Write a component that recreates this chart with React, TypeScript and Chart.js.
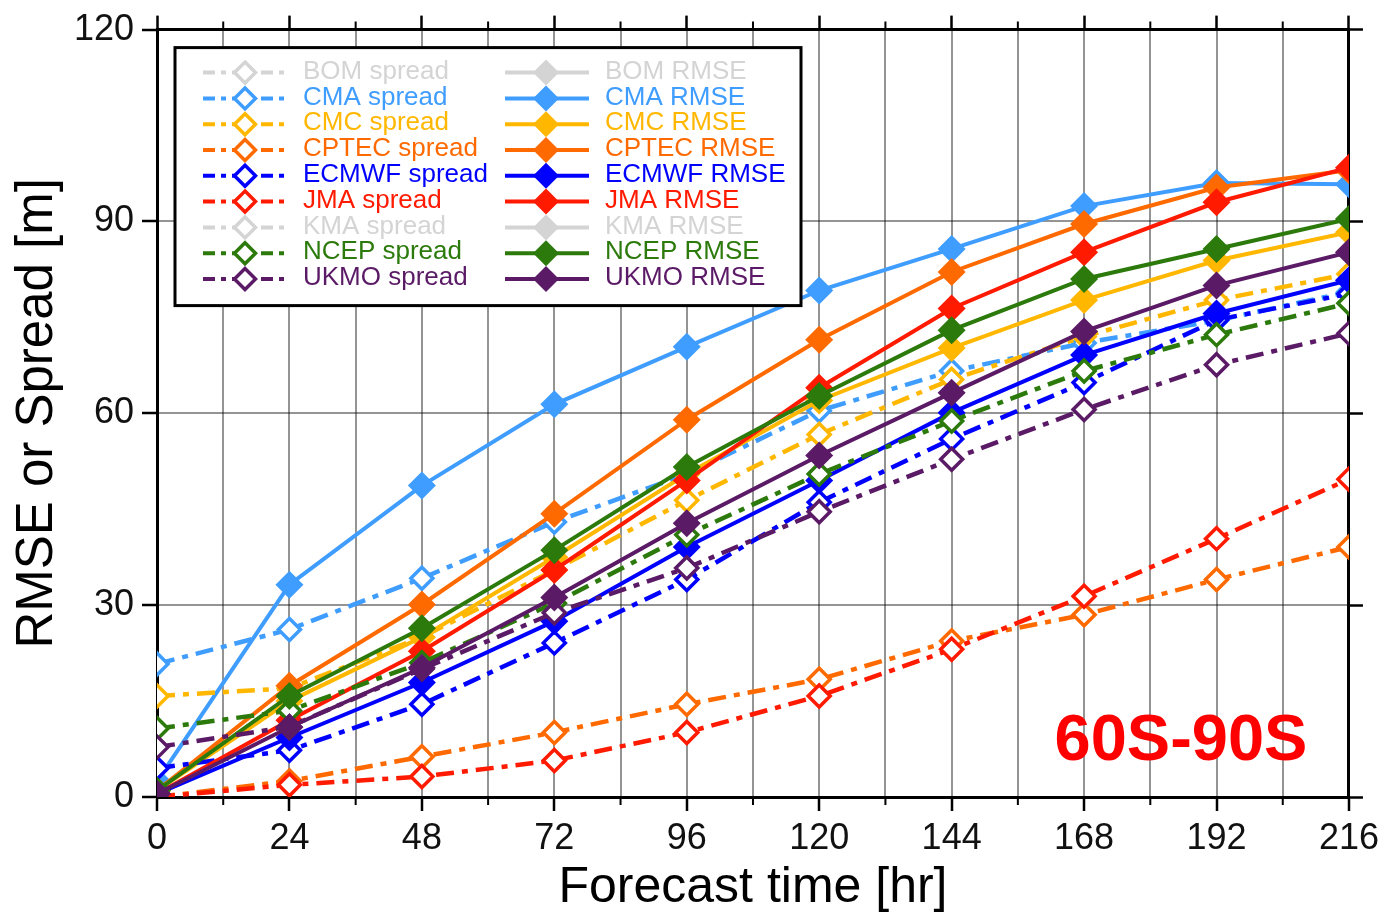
import React, { useEffect, useRef } from 'react';
import { Chart, registerables } from 'chart.js';

Chart.register(...registerables);

// ---------- data ----------
const hours = [0, 24, 48, 72, 96, 120, 144, 168, 192, 216];
const xLabelHours = [0, 24, 48, 72, 96, 120, 144, 168, 192, 216];
const minorHours = [12, 36, 60, 84, 108, 132, 156, 180, 204];
const yTicks = [0, 30, 60, 90, 120];

const models = ['BOM', 'CMA', 'CMC', 'CPTEC', 'ECMWF', 'JMA', 'KMA', 'NCEP', 'UKMO'];
const modelColors = ['#d4d4d4', '#3f9dff', '#ffb700', '#ff6a00', '#0000ff', '#ff1a00', '#d4d4d4', '#2b7a0b', '#5b1a66'];

const bomSpread: number[] = [];
const bomRmse: number[] = [];
const cmaSpread = [20.8, 26.2, 34.2, 43.0, 50.5, 60.4, 66.6, 71.0, 74.5, 79.0];
const cmaRmse = [2.5, 33.2, 48.7, 61.4, 70.4, 79.2, 85.7, 92.4, 96.0, 95.8];
const cmcSpread = [15.8, 17.0, 25.0, 35.5, 46.4, 56.7, 65.3, 72.0, 77.7, 81.8];
const cmcRmse = [1.0, 15.0, 25.0, 37.5, 50.5, 62.0, 70.2, 77.7, 83.9, 88.3];
const cptecSpread = [0.0, 2.5, 6.3, 10.1, 14.5, 18.4, 24.4, 28.5, 34.0, 39.1];
const cptecRmse = [1.0, 17.4, 30.1, 44.3, 59.0, 71.5, 82.1, 89.6, 95.3, 98.0];
const ecmwfSpread = [4.5, 7.3, 14.5, 24.1, 34.0, 46.1, 56.0, 64.8, 74.6, 78.7];
const ecmwfRmse = [0.5, 9.3, 17.9, 27.5, 39.1, 49.5, 60.1, 69.1, 75.6, 80.8];
const jmaSpread = [0.0, 1.9, 3.2, 5.7, 10.1, 15.8, 23.1, 31.4, 40.4, 49.7];
const jmaRmse = [0.5, 12.0, 22.8, 35.5, 49.5, 64.0, 76.4, 85.2, 93.0, 98.4];
const kmaSpread: number[] = [];
const kmaRmse: number[] = [];
const ncepSpread = [10.7, 13.5, 21.0, 30.3, 41.0, 50.5, 58.8, 66.6, 72.3, 77.2];
const ncepRmse = [1.0, 15.8, 26.4, 38.6, 51.6, 62.7, 73.0, 81.0, 85.7, 90.4];
const ukmoSpread = [7.8, 11.0, 20.0, 28.8, 35.8, 44.6, 52.8, 60.6, 67.6, 72.5];
const ukmoRmse = [0.5, 10.9, 20.2, 31.2, 42.8, 53.4, 63.2, 72.8, 80.0, 85.2];

const spreads = [bomSpread, cmaSpread, cmcSpread, cptecSpread, ecmwfSpread, jmaSpread, kmaSpread, ncepSpread, ukmoSpread];
const rmses = [bomRmse, cmaRmse, cmcRmse, cptecRmse, ecmwfRmse, jmaRmse, kmaRmse, ncepRmse, ukmoRmse];

const regionLabel = '60S-90S';
const yTitle = 'RMSE or Spread [m]';
const xTitle = 'Forecast time [hr]';

// ---------- styles ----------
const FONT = "'Liberation Sans', Arial, Helvetica, sans-serif";
const SPREAD_DASH = [18, 8, 6, 8];

function toPoints(vals: number[]) {
  return vals.map((v, i) => ({ x: hours[i], y: v }));
}

function drawDiamond(ctx: CanvasRenderingContext2D, x: number, y: number, r: number) {
  ctx.beginPath();
  ctx.moveTo(x, y - r);
  ctx.lineTo(x + r, y);
  ctx.lineTo(x, y + r);
  ctx.lineTo(x - r, y);
  ctx.closePath();
}

const legendPlugin = {
  id: 'customLegend',
  afterDatasetsDraw(chart: any) {
    const ctx: CanvasRenderingContext2D = chart.ctx;
    const ca = chart.chartArea;
    const bx = ca.left + 18;
    const by = ca.top + 18;
    const bw = 626;
    const bh = 258;
    ctx.save();
    ctx.fillStyle = '#ffffff';
    ctx.fillRect(bx, by, bw, bh);
    ctx.lineWidth = 3;
    ctx.strokeStyle = '#000000';
    ctx.setLineDash([]);
    ctx.strokeRect(bx, by, bw, bh);
    ctx.font = `26px ${FONT}`;
    ctx.textBaseline = 'middle';
    ctx.textAlign = 'left';
    const rowH = 25.8;
    models.forEach((m, i) => {
      const y = by + 25 + i * rowH;
      const c = modelColors[i];
      // spread column
      const x0 = bx + 28;
      ctx.strokeStyle = c;
      ctx.lineWidth = 4;
      ctx.setLineDash([12, 6, 5, 6]);
      ctx.beginPath();
      ctx.moveTo(x0, y);
      ctx.lineTo(x0 + 84, y);
      ctx.stroke();
      ctx.setLineDash([]);
      drawDiamond(ctx, x0 + 42, y, 10.5);
      ctx.fillStyle = '#ffffff';
      ctx.fill();
      ctx.lineWidth = 3.5;
      ctx.stroke();
      ctx.fillStyle = c;
      ctx.fillText(`${m} spread`, bx + 128, y - 1);
      // rmse column
      const x1 = bx + 330;
      ctx.strokeStyle = c;
      ctx.lineWidth = 4;
      ctx.beginPath();
      ctx.moveTo(x1, y);
      ctx.lineTo(x1 + 84, y);
      ctx.stroke();
      drawDiamond(ctx, x1 + 41, y, 13);
      ctx.fillStyle = c;
      ctx.fill();
      ctx.fillText(`${m} RMSE`, bx + 430, y - 1);
    });
    ctx.restore();
  },
  afterDraw(chart: any) {
    const ctx: CanvasRenderingContext2D = chart.ctx;
    const ca = chart.chartArea;
    const xs = chart.scales.x;
    ctx.save();
    // minor ticks
    ctx.strokeStyle = '#000';
    ctx.lineWidth = 2;
    minorHours.forEach((h) => {
      const px = xs.getPixelForValue(h);
      ctx.beginPath();
      ctx.moveTo(px, ca.bottom);
      ctx.lineTo(px, ca.bottom + 8);
      ctx.moveTo(px, ca.top);
      ctx.lineTo(px, ca.top - 8);
      ctx.stroke();
    });
    // region label
    ctx.fillStyle = '#ff0000';
    ctx.font = `bold 65px ${FONT}`;
    ctx.textAlign = 'center';
    ctx.textBaseline = 'alphabetic';
    ctx.fillText(regionLabel, ca.right - 168, ca.bottom - 37);
    ctx.restore();
  },
};

export default function App() {
  const canvasRef = useRef<HTMLCanvasElement | null>(null);

  useEffect(() => {
    document.body.style.margin = '0';
    const canvas = canvasRef.current;
    if (!canvas) return;

    const datasets: any[] = [];
    const N = models.length * 2;
    models.forEach((m, i) => {
      const c = modelColors[i];
      datasets.push({
        label: `${m} spread`,
        data: toPoints(spreads[i]),
        borderColor: c,
        backgroundColor: c,
        borderWidth: 4.5,
        borderDash: SPREAD_DASH,
        pointStyle: 'rectRot',
        pointRadius: 11,
        pointBorderWidth: 3.5,
        pointBackgroundColor: '#ffffff',
        pointBorderColor: c,
        fill: false,
        tension: 0,
        clip: 0,
        order: N - datasets.length,
      });
      datasets.push({
        label: `${m} RMSE`,
        data: toPoints(rmses[i]),
        borderColor: c,
        backgroundColor: c,
        borderWidth: 4,
        pointStyle: 'rectRot',
        pointRadius: 14,
        pointBorderWidth: 0,
        pointBackgroundColor: c,
        pointBorderColor: c,
        fill: false,
        tension: 0,
        clip: 0,
        order: N - datasets.length,
      });
    });

    const gridColor = 'rgba(0,0,0,0.42)';

    const chart = new Chart(canvas, {
      type: 'line',
      data: { datasets },
      options: {
        responsive: false,
        animation: false,
        events: [],
        layout: { padding: 0 },
        plugins: {
          legend: { display: false },
          tooltip: { enabled: false },
          title: { display: false },
        },
        scales: {
          x: {
            type: 'linear',
            position: 'bottom',
            min: 0,
            max: 216,
            afterBuildTicks: (scale: any) => {
              const arr: any[] = [];
              for (let h = 0; h <= 216; h += 12) arr.push({ value: h });
              scale.ticks = arr;
            },
            afterFit: (scale: any) => {
              scale.height = 117;
            },
            ticks: {
              autoSkip: false,
              maxRotation: 0,
              padding: 6,
              color: '#111',
              font: { family: FONT, size: 36 },
              callback: (v: any) => (xLabelHours.includes(Number(v)) ? String(v) : ''),
            },
            grid: {
              color: gridColor,
              lineWidth: 2,
              tickLength: 14,
              tickWidth: 2.5,
              tickColor: (ctx: any) => (ctx.tick && ctx.tick.value % 24 === 0 ? '#000' : 'rgba(0,0,0,0)'),
            },
            border: { display: true, color: '#000', width: 3 },
            title: {
              display: true,
              text: xTitle,
              color: '#000',
              font: { family: FONT, size: 50, lineHeight: 1.1 },
              padding: { top: 0, bottom: -2 },
            },
          },
          x2: {
            type: 'linear',
            position: 'top',
            min: 0,
            max: 216,
            afterBuildTicks: (scale: any) => {
              scale.ticks = xLabelHours.map((h) => ({ value: h }));
            },
            afterFit: (scale: any) => {
              scale.height = 24;
            },
            ticks: { display: false },
            grid: {
              drawOnChartArea: false,
              tickLength: 14,
              tickWidth: 2.5,
              tickColor: '#000',
            },
            border: { display: true, color: '#000', width: 3 },
          },
          y: {
            type: 'linear',
            position: 'left',
            min: 0,
            max: 120,
            afterBuildTicks: (scale: any) => {
              scale.ticks = yTicks.map((v) => ({ value: v }));
            },
            afterFit: (scale: any) => {
              scale.width = 157;
            },
            ticks: {
              padding: 8,
              color: '#111',
              font: { family: FONT, size: 36 },
            },
            grid: {
              color: gridColor,
              lineWidth: 2,
              tickLength: 15,
              tickWidth: 2.5,
              tickColor: '#000',
            },
            border: { display: true, color: '#000', width: 3 },
            title: {
              display: true,
              text: yTitle,
              color: '#000',
              font: { family: FONT, size: 51, lineHeight: 1.1 },
              padding: { top: 10, bottom: 0 },
            },
          },
          y2: {
            type: 'linear',
            position: 'right',
            min: 0,
            max: 120,
            afterBuildTicks: (scale: any) => {
              scale.ticks = yTicks.map((v) => ({ value: v }));
            },
            afterFit: (scale: any) => {
              scale.width = 32;
            },
            ticks: { display: false },
            grid: {
              drawOnChartArea: false,
              tickLength: 14,
              tickWidth: 2.5,
              tickColor: '#000',
            },
            border: { display: true, color: '#000', width: 3 },
          },
        },
      } as any,
      plugins: [legendPlugin],
    });

    return () => {
      chart.destroy();
    };
  }, []);

  return (
    <div style={{ position: 'fixed', left: 0, top: 0, width: 1385, height: 914, background: '#fff' }}>
      <canvas ref={canvasRef} width={1385} height={914} style={{ display: 'block' }} />
    </div>
  );
}
